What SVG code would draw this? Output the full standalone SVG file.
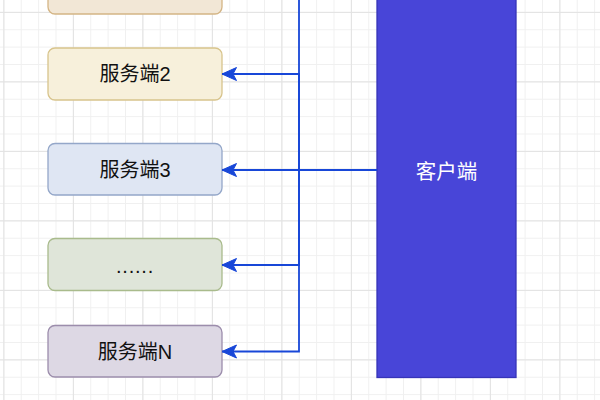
<svg xmlns="http://www.w3.org/2000/svg" width="600" height="400" viewBox="0 0 600 400">
  <defs>
    <pattern id="minor" patternUnits="userSpaceOnUse" x="3.375" y="11.875" width="17.375" height="17.375">
      <path d="M0,0.5 H17.375 M0.5,0 V17.375" fill="none" stroke="#f0f0f0" stroke-width="1"/>
    </pattern>
    <pattern id="major" patternUnits="userSpaceOnUse" x="3.375" y="11.875" width="69.5" height="69.5">
      <path d="M0,0.5 H69.5 M0.5,0 V69.5" fill="none" stroke="#e2e2e2" stroke-width="1"/>
    </pattern>
    <marker id="arr" markerUnits="userSpaceOnUse" markerWidth="20" markerHeight="20" refX="0" refY="0" viewBox="-16 -8 20 16" orient="auto" overflow="visible">
      <path d="M0,0 L-14.5,-6.5 L-11,0 L-14.5,6.5 Z" fill="#1847d8" stroke="#1847d8" stroke-width="1"/>
    </marker>
    <style>
      .srv rect { stroke-width: 1.3; }
      .srv text { font-family: "Liberation Sans", "Noto Sans CJK SC", sans-serif; font-size: 20px; fill: #111; text-anchor: middle; dominant-baseline: central; }
      .conn path { fill: none; stroke: #1847d8; stroke-width: 1.8; marker-end: url(#arr); }
    </style>
  </defs>
  <rect width="600" height="400" fill="#ffffff"/>
  <rect width="600" height="400" fill="url(#minor)"/>
  <rect width="600" height="400" fill="url(#major)"/>

  <g id="server1" class="srv">
    <rect x="48" y="-38" width="174" height="52" rx="7" fill="#f2e7d6" stroke="#d4b585"/>
  </g>
  <g id="server2" class="srv">
    <rect x="48" y="48" width="174" height="52" rx="7" fill="#f7f0db" stroke="#d8c48c"/>
    <text x="135" y="74">服务端2</text>
  </g>
  <g id="server3" class="srv">
    <rect x="48" y="143.5" width="174" height="51.5" rx="7" fill="#dfe6f3" stroke="#94a7c9"/>
    <text x="135" y="169.5">服务端3</text>
  </g>
  <g id="serverDots" class="srv">
    <rect x="48" y="238.5" width="174" height="52" rx="7" fill="#dfe5d9" stroke="#a9bb8c"/>
    <text x="135" y="266" letter-spacing="0.8">......</text>
  </g>
  <g id="serverN" class="srv">
    <rect x="48" y="325.5" width="174" height="51.5" rx="7" fill="#ddd8e4" stroke="#9c8dac"/>
    <text x="135" y="351.5">服务端N</text>
  </g>

  <g id="client">
    <rect x="377" y="-38" width="139" height="415.5" fill="#4845d8" stroke="#3634b8" stroke-width="1.3"/>
    <text x="446.5" y="171" font-family="'Liberation Sans', 'Noto Sans CJK SC', sans-serif" font-size="20.5" fill="#ffffff" text-anchor="middle" dominant-baseline="central">客户端</text>
  </g>

  <g id="connectors" class="conn">
    <path d="M377,170 H299 V-12 H222"/>
    <path d="M377,170 H299 V74 H222"/>
    <path d="M377,170 H222"/>
    <path d="M377,170 H299 V265 H222"/>
    <path d="M377,170 H299 V351.5 H222"/>
  </g>
</svg>
